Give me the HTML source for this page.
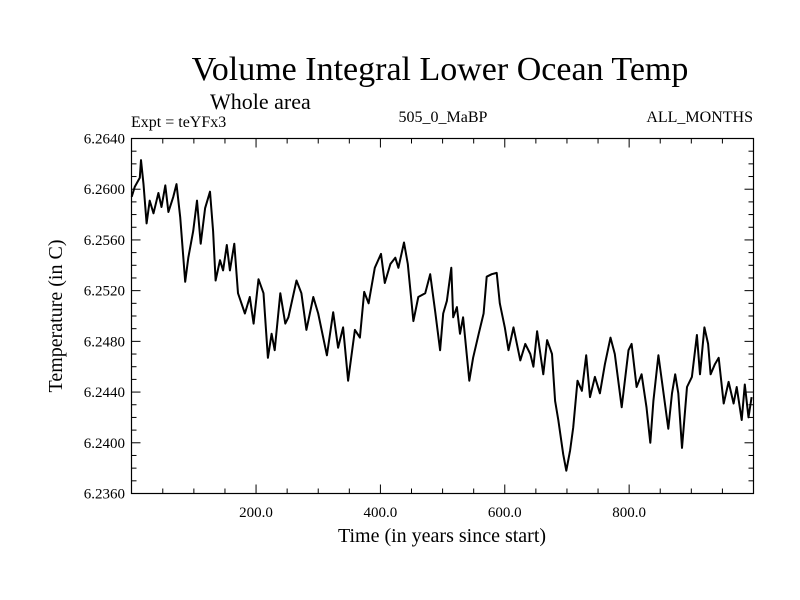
<!DOCTYPE html>
<html><head><meta charset="utf-8"><style>
body{margin:0;background:#fff}
svg{display:block;font-family:"Liberation Serif",serif}
</style></head><body>
<svg id="chart" width="800" height="600">
<rect width="800" height="600" fill="#fff"/>
<text x="440" y="80" font-size="34" text-anchor="middle">Volume Integral Lower Ocean Temp</text>
<text x="210" y="109" font-size="22">Whole area</text>
<text x="131" y="127" font-size="16">Expt = teYFx3</text>
<text x="443" y="122" font-size="16" text-anchor="middle">505_0_MaBP</text>
<text x="753" y="122" font-size="16" text-anchor="end">ALL_MONTHS</text>
<text x="442" y="542" font-size="20" text-anchor="middle">Time (in years since start)</text>
<text transform="translate(62,316) rotate(-90)" font-size="20" text-anchor="middle">Temperature (in C)</text>
<g id="axes"></g>
<path id="series" fill="none" stroke="#000" stroke-width="2" stroke-linejoin="round"/>
<rect x="131.5" y="138.5" width="622" height="355" fill="none" stroke="#000" stroke-width="1.2"/>
</svg>
<script>
const years=[0,5,13,15,19,24,29,35,43,48,54,59,67,72,78,86,91,99,105,111,118,126,131,135,142,147,153,158,165,171,182,190,196,204,212,219,225,230,239,247,252,265,273,281,292,300,314,324,332,340,348,359,367,374,381,391,401,407,416,424,429,438,444,453,461,472,480,488,496,501,507,514,517,523,528,533,543,549,558,566,571,579,587,592,600,606,614,625,633,641,646,652,662,668,676,681,686,694,699,705,710,717,724,731,737,745,753,761,770,777,788,799,804,812,820,828,834,839,847,854,863,869,874,879,885,893,901,909,914,921,927,931,938,944,952,960,968,973,981,986,992,997];
const temps=[6.2594,6.2602,6.2609,6.2623,6.2604,6.2573,6.2591,6.2581,6.2597,6.2586,6.2603,6.2582,6.2594,6.2604,6.2578,6.2527,6.2546,6.2567,6.2591,6.2557,6.2585,6.2598,6.2567,6.2528,6.2544,6.2536,6.2556,6.2536,6.2557,6.2518,6.2502,6.2515,6.2494,6.2529,6.2518,6.2467,6.2486,6.2473,6.2518,6.2494,6.2499,6.2528,6.2518,6.2489,6.2515,6.2502,6.2469,6.2503,6.2475,6.2491,6.2449,6.2489,6.2483,6.2519,6.2510,6.2538,6.2549,6.2526,6.2541,6.2546,6.2538,6.2558,6.2541,6.2496,6.2515,6.2518,6.2533,6.2504,6.2473,6.2502,6.2512,6.2538,6.2499,6.2507,6.2486,6.2499,6.2449,6.2467,6.2486,6.2502,6.2531,6.2533,6.2534,6.2510,6.2491,6.2473,6.2491,6.2465,6.2478,6.2470,6.2460,6.2488,6.2454,6.2481,6.2470,6.2433,6.2418,6.2391,6.2378,6.2394,6.2412,6.2449,6.2441,6.2469,6.2436,6.2452,6.2439,6.2462,6.2483,6.2470,6.2428,6.2473,6.2478,6.2444,6.2454,6.2428,6.2400,6.2433,6.2469,6.2444,6.2411,6.2439,6.2454,6.2439,6.2396,6.2444,6.2452,6.2485,6.2454,6.2491,6.2478,6.2454,6.2462,6.2467,6.2431,6.2448,6.2431,6.2444,6.2418,6.2446,6.2420,6.2436];
const xTickLabels=["200.0","400.0","600.0","800.0"];
const yTickLabels=["6.2360","6.2400","6.2440","6.2480","6.2520","6.2560","6.2600","6.2640"];

const L=131.5,R=753.5,T=138.5,B=493.5,X0=-0.3,X1=1000,Y0=6.236,Y1=6.264;
const sx=v=>L+(v-X0)/(X1-X0)*(R-L);
const sy=v=>B-(v-Y0)/(Y1-Y0)*(B-T);
const NS="http://www.w3.org/2000/svg";
const axes=document.getElementById('axes');
function line(x1,y1,x2,y2,name){
  const l=document.createElementNS(NS,'line');
  l.setAttribute('x1',x1);l.setAttribute('y1',y1);l.setAttribute('x2',x2);l.setAttribute('y2',y2);
  l.setAttribute('stroke','#000');l.setAttribute('stroke-width','1');
  
  
  axes.appendChild(l);
}
function text(x,y,s,anchor,name){
  const t=document.createElementNS(NS,'text');
  t.setAttribute('x',x);t.setAttribute('y',y);t.setAttribute('font-size','15');t.setAttribute('text-anchor',anchor);
  t.textContent=s;
  
  
  axes.appendChild(t);
}
for(let v=50;v<1000;v+=50){
  const x=sx(v),len=(v%200===0)?9:5;
  line(x,B,x,B-len,'x-tick');
  line(x,T,x,T+len,'x-tick-top');
}
xTickLabels.forEach(s=>{text(sx(parseFloat(s)),517,s,'middle','x-tick-label');});
for(let i=0;i<=28;i++){
  const v=Y0+i*0.001,y=sy(v),len=(i%4===0)?9:5;
  line(L,y,L+len,y,'y-tick');
  line(R,y,R-len,y,'y-tick-right');
}
yTickLabels.forEach(s=>{text(125,sy(parseFloat(s))+5,s,'end','y-tick-label');});
let d='';
years.forEach((yr,i)=>{d+=(i?'L':'M')+sx(yr).toFixed(1)+','+sy(temps[i]).toFixed(1);});
document.getElementById('series').setAttribute('d',d);
</script>
</body></html>
